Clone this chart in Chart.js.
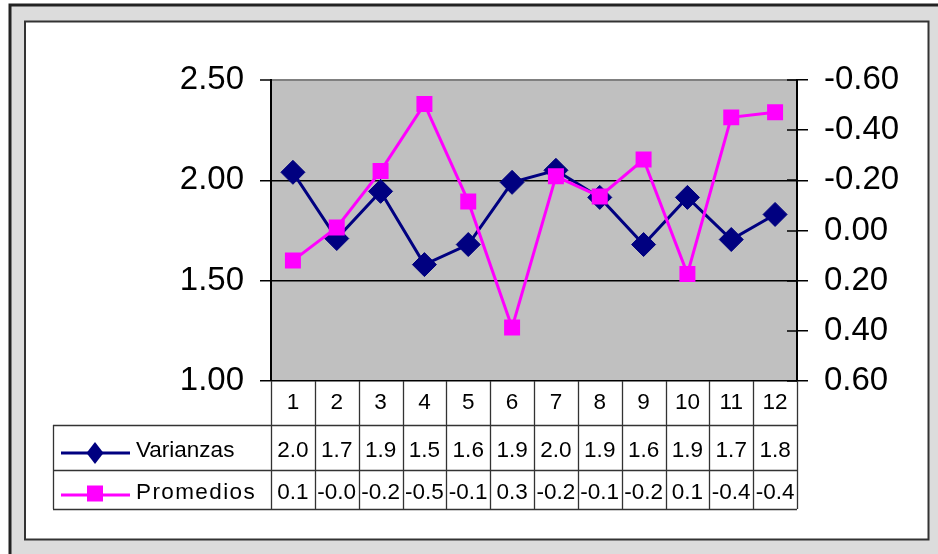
<!DOCTYPE html>
<html><head><meta charset="utf-8">
<script src="https://cdn.jsdelivr.net/npm/chart.js@4/dist/chart.umd.min.js"></script>
<style>html,body{margin:0;padding:0;background:#fff}#wrap{position:absolute;left:0;top:0;width:938px;height:554px}</style>
</head><body><div id="wrap"><canvas id="c"></canvas></div>
<script>
const categories = ['1','2','3','4','5','6','7','8','9','10','11','12'];
const varianzas = [2.04, 1.71, 1.945, 1.58, 1.68, 1.99, 2.05, 1.915, 1.68, 1.915, 1.705, 1.83];
const promedios = [0.12, -0.012, -0.237, -0.504, -0.116, 0.387, -0.216, -0.136, -0.283, 0.173, -0.451, -0.471];
const varianzasTable = ['2.0','1.7','1.9','1.5','1.6','1.9','2.0','1.9','1.6','1.9','1.7','1.8'];
const promediosTable = ['0.1','-0.0','-0.2','-0.5','-0.1','0.3','-0.2','-0.1','-0.2','0.1','-0.4','-0.4'];
const leftTicks = [1.0, 1.5, 2.0, 2.5];
const rightTicks = [-0.6, -0.4, -0.2, 0, 0.2, 0.4, 0.6];
const seriesNames = ['Varianzas', 'Promedios'];

const FONT = '"Liberation Sans", Arial, sans-serif';
const NAVY = '#000080', MAGENTA = '#ff00ff';

const framePlugin = {
  id: 'frame',
  beforeDraw(chart) {
    const ctx = chart.ctx, a = chart.chartArea;
    ctx.save();
    ctx.fillStyle = '#fff'; ctx.fillRect(0, 0, 938, 554);
    ctx.fillStyle = '#dcdcdc'; ctx.fillRect(10, 5, 928, 549);
    ctx.strokeStyle = '#222'; ctx.lineWidth = 3;
    ctx.beginPath(); ctx.moveTo(10, 554); ctx.lineTo(10, 5); ctx.lineTo(938, 5); ctx.stroke();
    ctx.fillStyle = '#fff'; ctx.fillRect(25, 21.5, 903.5, 518);
    ctx.strokeStyle = '#333'; ctx.lineWidth = 2; ctx.strokeRect(25, 21.5, 903.5, 518);
    ctx.fillStyle = '#c0c0c0'; ctx.fillRect(a.left, a.top, a.right - a.left, a.bottom - a.top);
    ctx.restore();
  },
  afterDraw(chart) {
    const ctx = chart.ctx, a = chart.chartArea, xs = chart.scales.x, y2 = chart.scales.y2;
    ctx.save();
    // inner ticks of right axis
    ctx.strokeStyle = '#000'; ctx.lineWidth = 1.5;
    rightTicks.forEach(v => {
      const py = Math.round(y2.getPixelForValue(v));
      ctx.beginPath(); ctx.moveTo(a.right - 10, py); ctx.lineTo(a.right, py); ctx.stroke();
    });
    // data table
    const n = categories.length;
    const bounds = [a.left];
    for (let i = 1; i < n; i++) bounds.push((xs.getPixelForValue(i - 1) + xs.getPixelForValue(i)) / 2);
    bounds.push(a.right);
    const r0 = a.bottom, r1 = 425, r2 = 470, r3 = 509, legL = 53;
    ctx.strokeStyle = '#333'; ctx.lineWidth = 1.3;
    ctx.beginPath();
    bounds.forEach(bx => { ctx.moveTo(Math.round(bx) + 0.5, r0); ctx.lineTo(Math.round(bx) + 0.5, r3); });
    [r1, r2, r3].forEach(ry => { ctx.moveTo(legL, ry + 0.5); ctx.lineTo(a.right, ry + 0.5); });
    ctx.moveTo(legL + 0.5, r1); ctx.lineTo(legL + 0.5, r3);
    ctx.stroke();
    ctx.fillStyle = '#000';
    ctx.font = '22.5px ' + FONT;
    ctx.textAlign = 'center'; ctx.textBaseline = 'alphabetic';
    for (let i = 0; i < n; i++) {
      const cx = xs.getPixelForValue(i);
      ctx.fillText(categories[i], cx, 409);
      ctx.fillText(varianzasTable[i], cx, 457);
      ctx.fillText(promediosTable[i], cx, 499);
    }
    // legend keys
    ctx.lineWidth = 3;
    ctx.strokeStyle = NAVY;
    ctx.beginPath(); ctx.moveTo(61, 453); ctx.lineTo(130, 453); ctx.stroke();
    ctx.fillStyle = NAVY;
    ctx.beginPath(); ctx.moveTo(95, 442); ctx.lineTo(103.5, 453); ctx.lineTo(95, 464); ctx.lineTo(86.5, 453); ctx.closePath(); ctx.fill();
    ctx.strokeStyle = MAGENTA;
    ctx.beginPath(); ctx.moveTo(61, 495); ctx.lineTo(130, 495); ctx.stroke();
    ctx.fillStyle = MAGENTA; ctx.fillRect(87, 485.5, 16, 16);
    ctx.fillStyle = '#000'; ctx.textAlign = 'left';
    ctx.fillText(seriesNames[0], 136, 457);
    ctx.letterSpacing = '1.4px';
    ctx.fillText(seriesNames[1], 136, 499);
    ctx.letterSpacing = '0px';
    ctx.restore();
  }
};

new Chart(document.getElementById('c'), {
  type: 'line',
  data: {
    labels: categories,
    datasets: [
      { label: seriesNames[0], data: varianzas, yAxisID: 'y', order: 1,
        borderColor: NAVY, backgroundColor: NAVY, borderWidth: 3,
        pointStyle: 'rectRot', pointRadius: 12, pointBorderWidth: 1, pointBorderColor: NAVY, pointBackgroundColor: NAVY,
        tension: 0, fill: false },
      { label: seriesNames[1], data: promedios, yAxisID: 'y2', order: 0,
        borderColor: MAGENTA, backgroundColor: MAGENTA, borderWidth: 3,
        pointStyle: 'rect', pointRadius: 11.3, pointBorderWidth: 0, pointBackgroundColor: MAGENTA,
        tension: 0, fill: false }
    ]
  },
  options: {
    responsive: true, maintainAspectRatio: false, animation: false, devicePixelRatio: 1,
    layout: { padding: { top: 80, bottom: 173, left: 0, right: 0 } },
    plugins: { legend: { display: false }, tooltip: { enabled: false } },
    scales: {
      x: { type: 'category', offset: true, display: false },
      y: {
        position: 'left', min: 1, max: 2.5,
        afterBuildTicks: s => { s.ticks = leftTicks.map(v => ({ value: v })); },
        afterFit: s => { s.width = 271; },
        ticks: { color: '#000', font: { family: FONT, size: 33 }, padding: 16, callback: v => Number(v).toFixed(2) },
        grid: { color: c => (c.tick && c.tick.value === 2.5) ? '#808080' : '#000', lineWidth: c => (c.tick && c.tick.value === 2.5) ? 2 : 1.5,
                tickLength: 11, tickColor: '#000', tickWidth: 1.5 },
        border: { display: true, color: '#000', width: 2 }
      },
      y2: {
        position: 'right', reverse: true, min: -0.6, max: 0.6,
        afterBuildTicks: s => { s.ticks = rightTicks.map(v => ({ value: v })); },
        afterFit: s => { s.width = 141; },
        ticks: { color: '#000', font: { family: FONT, size: 33 }, padding: 16,
                 callback: v => (Math.abs(v) < 1e-9 ? 0 : Number(v)).toFixed(2) },
        grid: { drawOnChartArea: false, tickLength: 11, color: '#000', lineWidth: 1.5 },
        border: { display: true, color: '#000', width: 2 }
      }
    }
  },
  plugins: [framePlugin]
});
</script>
</body></html>
